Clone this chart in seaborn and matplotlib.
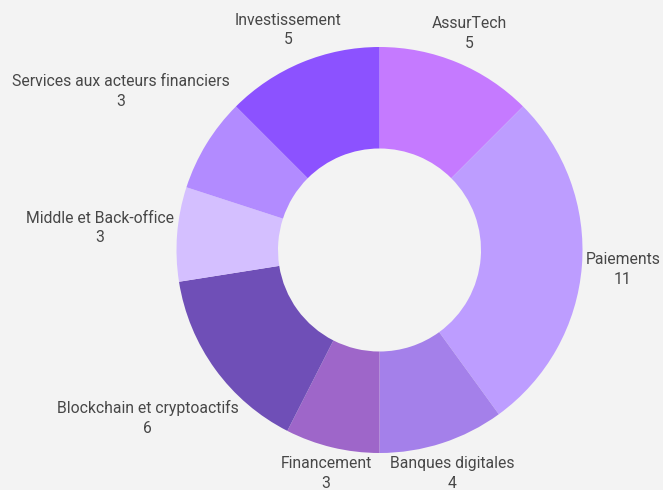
import numpy as np
import matplotlib
matplotlib.use('Agg')
import matplotlib.pyplot as plt
import seaborn as sns

# données du graphique (sens horaire depuis le haut)
categories = ['AssurTech', 'Paiements', 'Banques digitales', 'Financement',
              'Blockchain et cryptoactifs', 'Middle et Back-office',
              'Services aux acteurs financiers', 'Investissement']
valeurs = [5, 11, 4, 3, 6, 3, 3, 5]
couleurs = ['#c57aff', '#bd9dff', '#a480ea', '#9e66c9',
            '#6f4fb7', '#d4bfff', '#b28bff', '#8c52ff']

FOND = '#f3f3f3'
TEXTE = '#474747'

sns.set_theme(style='white', rc={'figure.facecolor': FOND, 'axes.facecolor': FOND})
plt.rcParams['font.family'] = ['Roboto', 'DejaVu Sans']

fig = plt.figure(figsize=(6.63, 4.9), dpi=100)
ax = fig.add_axes([0, 0, 1, 1])

# rayon extérieur en pixels et centre du donut
R_PX = 203
CX, CY = 379.5, 240.0   # depuis le bas

wedges, _ = ax.pie(valeurs, colors=couleurs, startangle=90, counterclock=False,
                   wedgeprops=dict(width=0.5, edgecolor='none', linewidth=0))

ax.set_xlim(-CX / R_PX, (663 - CX) / R_PX)
ax.set_ylim(-CY / R_PX, (490 - CY) / R_PX)
ax.set_aspect('auto')
ax.axis('off')

# étiquettes : la boîte de texte touche un cercle juste à l'extérieur du donut
textes = []
for cat, val in zip(categories, valeurs):
    t = ax.text(0, 0, f'{cat}\n{val}', ha='center', va='center', multialignment='center',
                fontsize=11.3, color=TEXTE, linespacing=1.4)
    textes.append(t)

fig.canvas.draw()
renderer = fig.canvas.get_renderer()

def distance_boite(t, ang, hw, hh):
    cx, cy = t * np.cos(ang), t * np.sin(ang)
    dx = max(0.0, abs(cx) - hw)
    dy = max(0.0, abs(cy) - hh)
    return np.hypot(dx, dy)

for w, txt in zip(wedges, textes):
    ang = np.deg2rad((w.theta1 + w.theta2) / 2)
    bb = txt.get_window_extent(renderer)
    hw = bb.width / 2 / R_PX
    hh = bb.height / 2 / R_PX
    lo, hi = 0.0, 3.0
    for _ in range(60):
        mid = (lo + hi) / 2
        if distance_boite(mid, ang, hw, hh) < 1.015:
            lo = mid
        else:
            hi = mid
    txt.set_position((hi * np.cos(ang), hi * np.sin(ang)))

fig.savefig('out.png', dpi=100, facecolor=FOND)
